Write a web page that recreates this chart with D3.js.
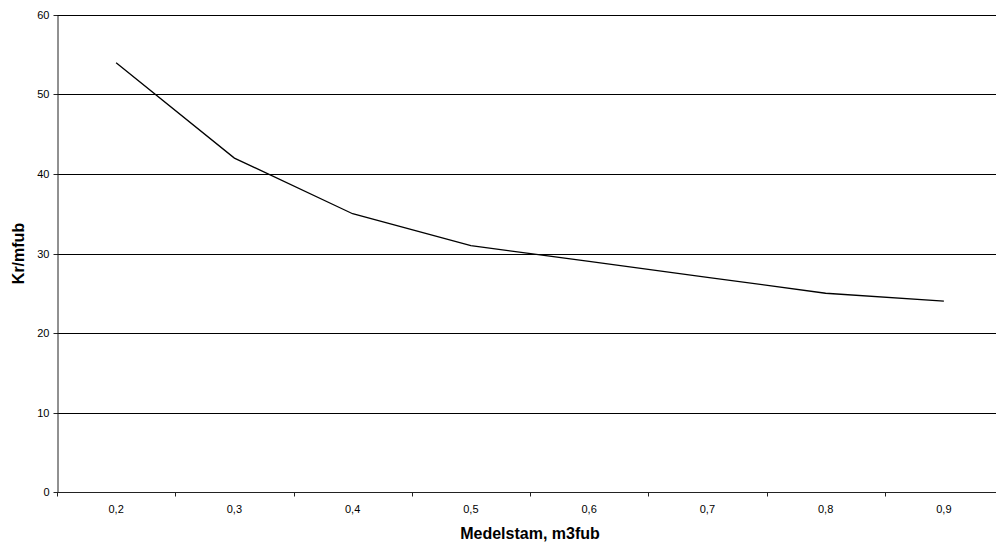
<!DOCTYPE html>
<html>
<head>
<meta charset="utf-8">
<script src="https://cdn.jsdelivr.net/npm/d3@7"></script>
<style>
  body { margin: 0; background: #fff; }
  svg { font-family: "Liberation Sans", Arial, sans-serif; }
</style>
</head>
<body>
<svg id="chart" width="996" height="548"></svg>
<script>
// chart data
const categories = ['0,2', '0,3', '0,4', '0,5', '0,6', '0,7', '0,8', '0,9'];
const values = [54, 42, 35, 31, 29, 27, 25, 24];
const yTicks = [0, 10, 20, 30, 40, 50, 60];

const LEFT = 57, TOP = 15, BOTTOM = 492, RIGHT = 1003;

const svg = d3.select('#chart');

const x = d3.scaleBand()
    .domain(categories)
    .range([LEFT, RIGHT]);
const y = d3.scaleLinear()
    .domain([0, 60])
    .range([BOTTOM, TOP]);

// horizontal gridlines
svg.append('g')
    .selectAll('line')
    .data(yTicks.filter(d => d > 0))
    .join('line')
    .attr('x1', LEFT)
    .attr('x2', RIGHT)
    .attr('y1', d => Math.round(y(d)) + 0.5)
    .attr('y2', d => Math.round(y(d)) + 0.5)
    .attr('stroke', '#000')
    .attr('stroke-width', 1);

// y axis
const yAxis = svg.append('g')
    .attr('transform', `translate(${LEFT + 0.5},0)`)
    .call(d3.axisLeft(y).tickValues(yTicks).tickSize(4).tickPadding(4).tickSizeOuter(0));
yAxis.select('.domain').attr('stroke', '#222');
yAxis.selectAll('.tick line').attr('stroke', '#222');
yAxis.selectAll('text').attr('font-size', 11).attr('fill', '#000');
yAxis.selectAll('.tick').attr('transform', d => `translate(0,${Math.round(y(d)) + 0.5})`);

// x axis: ticks sit on category boundaries
const xAxis = svg.append('g')
    .attr('transform', `translate(0,${BOTTOM + 0.5})`);
xAxis.append('line')
    .attr('x1', LEFT)
    .attr('x2', RIGHT)
    .attr('stroke', '#222');
xAxis.selectAll('line.tick')
    .data(categories.map(c => x(c)).concat([RIGHT]))
    .join('line')
    .attr('class', 'tick')
    .attr('x1', d => Math.round(d) + 0.5)
    .attr('x2', d => Math.round(d) + 0.5)
    .attr('y1', 0)
    .attr('y2', 4)
    .attr('stroke', '#222');
xAxis.selectAll('text')
    .data(categories)
    .join('text')
    .attr('x', d => x(d) + x.bandwidth() / 2)
    .attr('y', 20)
    .attr('text-anchor', 'middle')
    .attr('font-size', 11)
    .text(d => d);

// line series
const line = d3.line()
    .x((d, i) => x(categories[i]) + x.bandwidth() / 2)
    .y(d => y(d));
svg.append('path')
    .datum(values)
    .attr('d', line)
    .attr('fill', 'none')
    .attr('stroke', '#000')
    .attr('stroke-width', 1.3);

// axis titles
svg.append('text')
    .attr('x', 530)
    .attr('y', 539)
    .attr('text-anchor', 'middle')
    .attr('font-size', 16)
    .attr('font-weight', 'bold')
    .text('Medelstam, m3fub');

svg.append('text')
    .attr('transform', `translate(24,${(TOP + BOTTOM) / 2}) rotate(-90)`)
    .attr('text-anchor', 'middle')
    .attr('font-size', 16)
    .attr('font-weight', 'bold')
    .text('Kr/mfub');
</script>
</body>
</html>
